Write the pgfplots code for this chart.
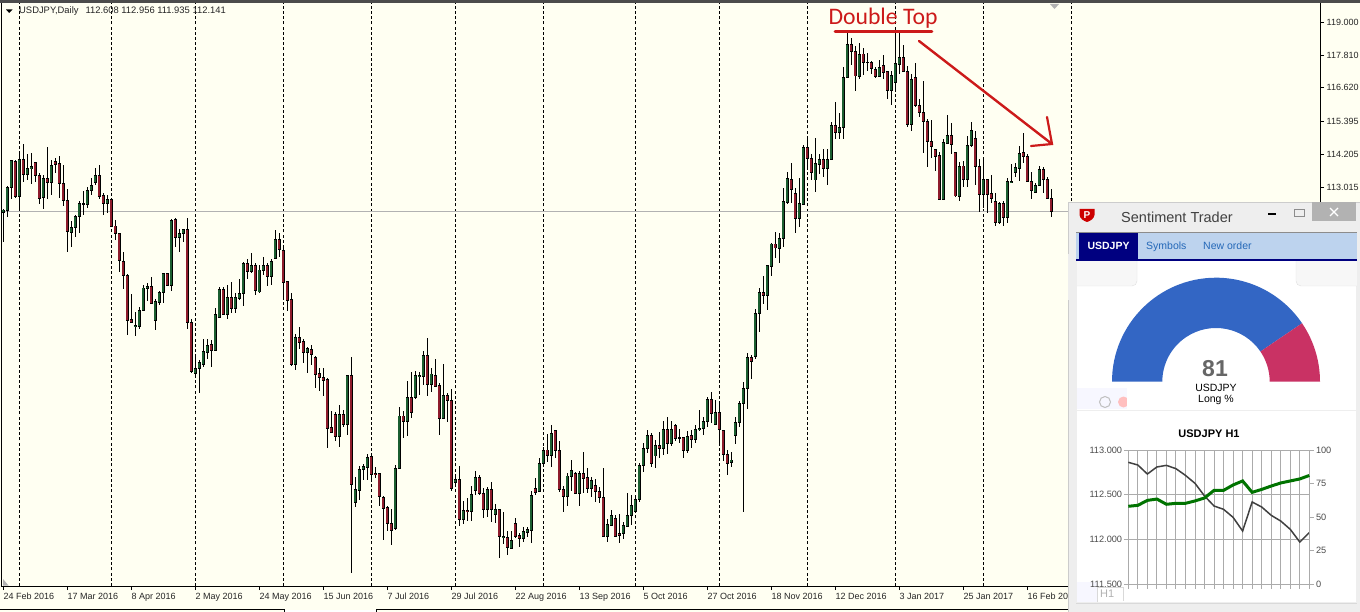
\documentclass[border=0pt]{standalone}
\usepackage{fontspec}
\setmainfont{Liberation Sans}
\newfontfamily\capfont{Carlito}
\usepackage{pgfplots}
\usepackage{pgfplotstable}
\pgfplotsset{compat=1.18}
\definecolor{chartbg}{HTML}{FFFFF2}
\definecolor{upc}{HTML}{1B5E30}
\definecolor{downc}{HTML}{8E1C2C}
\definecolor{panelbg}{HTML}{EEEEEE}
\definecolor{tabblue}{HTML}{BDD3EE}
\definecolor{navytab}{HTML}{000080}
\definecolor{linkblue}{HTML}{2468B8}
\definecolor{gaugeblue}{HTML}{3366C4}
\definecolor{gaugered}{HTML}{C93264}
\definecolor{markup}{HTML}{CC1A1A}
\definecolor{gridgrey}{HTML}{ABABAB}

% daily candles, k = bar number
\pgfplotstableread{
k o h l c
-1 112.13 112.25 111.06 112.20
0 112.18 113.07 111.94 113.02
1 113.02 114.01 112.59 113.99
2 113.96 114.01 112.64 112.68
3 112.68 114.27 112.20 114.03
4 114.03 114.59 113.23 113.48
5 113.48 114.23 113.29 113.71
6 113.70 114.25 113.13 113.77
7 113.91 113.95 113.23 113.46
8 113.46 113.55 112.42 112.61
9 112.66 113.47 112.25 113.35
10 113.35 114.47 112.61 113.19
11 113.21 114.01 112.73 113.82
12 113.95 114.07 113.53 113.84
13 113.87 114.15 112.64 113.17
14 113.17 113.83 112.35 112.54
15 112.54 112.97 110.70 111.43
16 111.38 111.79 110.85 111.58
17 111.58 112.03 111.24 111.98
18 111.96 112.54 111.38 112.42
19 112.39 112.90 112.02 112.42
20 112.39 113.02 112.27 112.92
21 112.90 113.35 112.74 113.07
22 113.19 113.71 113.12 113.46
23 113.46 113.83 112.61 112.68
24 112.71 112.80 112.02 112.44
25 112.44 112.73 112.08 112.59
26 112.59 112.62 111.60 111.62
27 111.62 111.84 111.12 111.36
28 111.36 111.38 109.97 110.37
29 110.35 110.70 109.36 109.84
30 109.84 109.89 107.69 108.22
31 108.25 109.16 108.10 108.13
32 107.98 108.53 107.65 108.03
33 107.98 108.71 107.91 108.56
34 108.56 109.48 108.54 109.38
35 109.36 109.57 108.92 109.45
36 109.45 109.79 108.80 108.83
37 108.22 108.97 107.86 108.88
38 108.85 109.26 108.78 109.21
39 109.21 109.94 108.83 109.89
40 109.89 109.94 109.45 109.48
41 109.48 111.86 109.28 111.82
42 111.86 111.90 110.88 111.21
43 111.21 111.50 110.70 111.36
44 111.36 111.50 111.06 111.48
45 111.48 111.91 107.91 108.13
46 108.13 108.25 106.32 106.36
47 106.30 106.90 106.15 106.48
48 106.47 106.78 105.60 106.68
49 106.61 107.53 106.54 107.07
50 107.04 107.55 106.80 107.31
51 107.32 107.50 106.51 107.12
52 107.12 108.65 107.12 108.41
53 108.32 109.41 108.30 109.31
54 109.31 109.43 108.44 108.44
55 108.44 109.49 108.27 109.04
56 109.04 109.60 108.47 108.66
57 108.63 109.19 108.49 109.04
58 109.02 109.72 108.95 109.19
59 109.19 110.32 108.73 110.25
60 110.25 110.42 109.72 109.97
61 109.97 110.63 109.91 110.21
62 110.21 110.30 109.14 109.28
63 109.24 110.20 109.21 110.03
64 110.01 110.51 109.84 110.21
65 110.21 110.30 109.45 109.79
66 109.79 110.42 109.49 110.35
67 110.44 111.48 110.42 111.14
68 111.14 111.38 110.49 110.76
69 110.73 110.85 108.95 109.57
70 109.60 109.65 108.56 108.92
71 108.95 109.19 106.56 106.61
72 106.61 107.72 106.42 107.60
73 107.60 107.96 107.16 107.40
74 107.43 107.53 106.66 107.04
75 107.04 107.26 106.32 107.19
76 107.16 107.31 106.60 106.97
77 106.87 106.92 105.77 106.27
78 106.30 106.48 105.67 106.13
79 106.15 106.49 105.48 106.05
80 106.08 106.13 103.60 104.32
81 104.34 104.95 104.13 104.17
82 104.79 104.91 103.86 104.01
83 104.01 105.14 103.64 104.81
84 104.81 104.97 104.37 104.46
85 104.46 106.22 104.07 106.22
86 106.22 106.87 99.09 102.27
87 101.62 102.56 101.47 102.08
88 102.05 102.94 101.72 102.82
89 102.82 103.02 102.44 102.94
90 102.90 103.38 102.44 103.26
91 103.28 103.31 102.44 102.63
92 102.68 102.90 102.51 102.63
93 102.66 102.70 101.50 101.84
94 101.81 101.86 100.27 101.40
95 101.43 101.50 100.61 100.87
96 100.87 101.38 100.09 100.61
97 100.70 102.98 100.63 102.86
98 102.85 105.09 102.82 104.75
99 104.75 104.95 103.96 104.54
100 104.54 106.01 104.03 105.43
101 105.43 106.36 104.68 104.87
102 105.43 106.39 105.38 106.22
103 106.18 106.36 105.51 106.22
104 106.18 107.12 105.86 106.95
105 106.95 107.56 105.48 105.89
106 105.89 106.48 105.62 106.27
107 106.22 106.80 105.81 105.84
108 105.86 105.96 104.07 104.68
109 104.68 106.63 104.68 105.48
110 105.48 105.60 104.55 105.31
111 105.31 105.72 102.05 102.15
112 102.34 102.56 102.26 102.46
113 102.46 102.94 100.78 101.02
114 101.02 101.69 100.85 101.35
115 101.35 101.78 100.97 101.31
116 101.31 102.22 100.97 101.90
117 102.05 102.75 101.91 102.54
118 102.54 102.62 101.90 101.96
119 101.96 102.14 101.06 101.38
120 101.38 102.17 101.11 102.08
121 102.08 102.37 100.93 101.38
122 101.21 101.57 100.87 101.38
123 101.38 101.38 99.63 100.39
124 100.37 101.28 100.12 100.41
125 100.37 100.61 99.74 100.00
126 99.98 100.61 99.93 100.25
127 100.87 101.06 100.33 100.41
128 100.44 100.53 100.00 100.32
129 100.32 100.73 100.20 100.56
130 100.53 100.75 100.39 100.63
131 100.61 102.05 100.17 101.88
132 102.14 102.51 101.90 102.00
133 102.02 103.23 102.02 103.04
134 103.04 103.62 102.90 103.52
135 103.52 104.10 103.10 103.31
136 103.31 104.42 102.90 104.10
137 104.22 104.25 103.22 103.50
138 103.50 103.86 102.02 102.08
139 102.10 102.22 101.29 101.84
140 101.84 102.68 101.50 102.58
141 102.56 103.16 102.05 102.78
142 102.66 102.73 101.93 101.96
143 101.96 102.78 101.50 102.66
144 102.66 103.45 101.96 102.49
145 102.51 102.86 101.96 102.13
146 102.13 102.56 101.84 102.41
147 102.25 102.46 101.66 102.03
148 102.03 102.17 101.62 101.81
149 101.81 102.87 100.39 100.39
150 100.39 101.04 100.20 100.84
151 100.80 101.35 100.78 101.14
152 101.06 101.16 100.39 100.41
153 100.51 101.21 100.17 100.44
154 100.49 100.92 100.32 100.80
155 100.75 101.96 100.75 101.14
156 101.14 101.90 100.81 101.50
157 101.29 101.90 101.23 101.74
158 101.72 103.04 101.64 102.97
159 102.95 103.77 102.74 103.58
160 103.57 104.25 103.43 104.03
161 104.03 104.15 102.92 103.02
162 103.31 103.89 102.87 103.69
163 103.69 104.17 103.23 103.57
164 103.57 104.56 103.36 104.27
165 104.27 104.71 103.38 103.77
166 103.77 104.56 103.67 104.27
167 104.42 104.46 103.86 103.93
168 103.93 104.27 103.77 103.96
169 103.96 104.01 103.23 103.50
170 103.50 104.20 103.43 104.01
171 104.03 104.25 103.60 103.89
172 103.89 104.42 103.79 104.27
173 104.25 104.97 104.20 104.30
174 104.30 104.71 104.08 104.56
175 104.56 105.43 104.37 105.36
176 105.36 105.62 104.51 104.85
177 104.44 105.33 104.42 104.87
178 104.87 105.19 103.77 104.25
179 104.22 104.25 103.11 103.36
180 103.36 103.52 102.63 103.04
181 103.07 103.45 102.92 103.16
182 104.05 104.71 103.74 104.51
183 104.51 105.28 104.37 105.21
184 105.21 105.98 101.29 105.75
185 105.75 107.02 105.02 106.87
186 106.87 106.97 106.10 106.73
187 106.90 108.61 106.80 108.47
188 108.47 109.37 107.79 109.23
189 109.23 109.82 108.80 109.12
190 109.12 110.20 108.59 110.18
191 110.15 111.00 109.82 110.97
192 110.97 111.41 110.47 110.83
193 110.82 111.38 110.30 111.18
194 111.18 112.99 110.88 112.52
195 112.47 113.58 112.42 113.34
196 113.31 113.91 112.44 112.93
197 112.80 112.99 111.38 111.91
198 111.91 113.35 111.60 112.42
199 112.42 114.54 112.38 114.47
200 114.47 114.88 113.65 114.06
201 114.06 114.23 113.29 113.55
202 113.29 114.79 112.87 113.87
203 113.84 114.23 113.50 114.03
204 114.03 114.40 113.41 113.72
205 113.72 114.40 113.11 114.03
206 114.03 115.40 114.01 115.26
207 115.26 116.12 114.76 115.00
208 115.00 115.70 114.76 115.19
209 115.19 117.38 114.76 117.00
210 116.98 118.61 116.98 118.17
211 118.17 118.41 117.45 117.93
212 117.93 118.13 116.52 117.05
213 117.05 118.25 116.95 117.84
214 117.84 118.05 117.10 117.53
215 117.53 117.89 117.24 117.55
216 117.55 117.59 117.12 117.31
217 117.29 117.38 116.98 117.02
218 117.02 117.63 117.00 117.36
219 117.41 117.79 116.93 117.19
220 117.22 117.24 116.23 116.52
221 116.52 117.22 116.01 117.05
222 116.81 118.59 116.57 117.48
223 117.48 118.59 117.12 117.72
224 117.72 118.17 117.19 117.22
225 117.22 117.41 115.22 115.31
226 115.31 117.12 115.07 116.93
227 117.00 117.51 115.94 115.99
228 115.99 116.23 115.58 115.72
229 115.72 116.85 114.25 115.40
230 115.41 115.50 113.77 114.69
231 114.69 115.46 114.07 114.49
232 114.37 114.42 113.62 114.15
233 114.18 114.30 112.56 112.59
234 112.59 114.76 112.56 114.64
235 114.61 115.64 114.59 114.88
236 114.88 115.36 114.23 114.56
237 114.28 114.30 112.68 112.71
238 112.71 113.95 112.54 113.79
239 113.79 113.99 113.05 113.31
240 113.31 114.88 113.02 114.54
241 114.54 115.38 114.49 115.07
242 114.78 115.07 113.09 113.77
243 113.79 114.03 112.13 112.78
244 112.78 114.03 112.26 113.29
245 113.29 113.34 112.08 112.78
246 112.80 113.48 112.47 112.61
247 112.49 112.80 111.62 111.74
248 111.74 112.49 111.70 112.42
249 112.42 112.52 111.62 111.94
250 111.94 113.36 111.74 113.24
251 113.20 113.87 113.20 113.24
252 113.55 113.89 113.41 113.74
253 113.72 114.52 113.26 114.25
254 114.28 114.97 113.89 114.13
255 114.15 114.23 113.21 113.24
256 113.24 113.59 112.61 112.90
257 112.85 113.19 112.80 113.09
258 113.09 113.79 113.07 113.67
259 113.67 113.74 112.83 113.31
260 113.31 113.41 112.59 112.61
261 112.61 112.96 111.94 112.14
}\candles

% sentiment panel series
\pgfplotstableread{
i price
0 112.862
1 112.832
2 112.731
3 112.810
4 112.828
5 112.791
6 112.716
7 112.627
8 112.485
9 112.373
10 112.336
11 112.246
12 112.093
13 112.418
14 112.362
15 112.269
16 112.205
17 112.112
18 111.970
19 112.075
}\hprice
\pgfplotstableread{
i long
0 58.0
1 58.7
2 62.4
3 63.4
4 59.5
5 60.2
6 60.2
7 62.0
8 64.2
9 69.9
10 69.9
11 73.9
12 76.9
13 68.4
14 70.6
15 73.1
16 75.4
17 76.9
18 78.4
19 81.0
}\hlong

\pgfplotsset{
  candle bars/.style n args={2}{only marks, mark size=0pt, mark options={draw=none, fill=none}, forget plot,
    error bars/.cd, y dir=both, y explicit, error mark=none,
    error bar style={draw=#1, solid, line width=#2}},
}

\begin{document}
\begin{tikzpicture}[x=1pt, y=-1pt]
\path[use as bounding box] (0,0) rectangle (1360,612);
\fill[chartbg] (0,0) rectangle (1360,612);

\begin{axis}[
  at={(2pt,-586pt)}, anchor=south west,
  scale only axis, width=1318pt, height=583pt,
  xmin=-1.3325, xmax=328.17,
  ymin=98.605, ymax=119.687,
  axis background/.style={fill=chartbg},
  axis line style={black, line width=1pt},
  ytick pos=right, xtick pos=bottom,
  tick style={black, line width=0.8pt},
  tick align=outside, major tick length=4pt,
  xtick={-1,15,31,47,63,79,95,111,127,143,159,175,191,207,223,239,255},
  xticklabels={24 Feb 2016,17 Mar 2016,8 Apr 2016,2 May 2016,24 May 2016,15 Jun 2016,7 Jul 2016,29 Jul 2016,22 Aug 2016,13 Sep 2016,5 Oct 2016,27 Oct 2016,18 Nov 2016,12 Dec 2016,3 Jan 2017,25 Jan 2017,16 Feb 2017},
  xticklabel style={anchor=north west, inner xsep=0pt, inner ysep=3pt, font=\fontsize{9}{10}\selectfont, text=black!85},
  ytick={119,117.81,116.62,115.395,114.205,113.015},
  yticklabels={119.000,117.810,116.620,115.395,114.205,113.015},
  yticklabel style={font=\fontsize{9}{10}\selectfont, text=black!85, inner xsep=2.5pt},
  extra x ticks={3,26,47,69,91,112,134,157,178,200,222,244,266},
  extra x tick labels={},
  extra x tick style={grid=major, major tick length=0pt,
    major grid style={black, line width=0.9pt, dash pattern=on 3pt off 2.2pt}},
]
\addplot[gray!60, line width=0.9pt, forget plot] coordinates {(-1.3325,112.141) (328,112.141)};
% wicks
\addplot[candle bars={black}{1pt}]
  table[x=k, y expr={(\thisrow{h}+\thisrow{l})/2}, y error expr={(\thisrow{h}-\thisrow{l})/2}] {\candles};
% body outlines
\addplot[candle bars={black}{3.6pt}]
  table[x=k, y expr={(\thisrow{o}+\thisrow{c})/2}, y error expr={abs(\thisrow{o}-\thisrow{c})/2+0.02}] {\candles};
% body fills: the other colour is sent off the left edge and dropped
\addplot[restrict x to domain=-5:400, candle bars={upc}{2pt}]
  table[x expr={\thisrow{c}>=\thisrow{o} ? \thisrow{k} : -50}, y expr={(\thisrow{o}+\thisrow{c})/2}, y error expr={max(abs(\thisrow{o}-\thisrow{c})/2-0.015,0)}] {\candles};
\addplot[restrict x to domain=-5:400, candle bars={downc}{2pt}]
  table[x expr={\thisrow{c}<\thisrow{o} ? \thisrow{k} : -50}, y expr={(\thisrow{o}+\thisrow{c})/2}, y error expr={max(abs(\thisrow{o}-\thisrow{c})/2-0.015,0)}] {\candles};
\end{axis}

% window chrome of the chart
\fill[black!70] (0,0) rectangle (1360,2.6);
\fill[black] (6,9.5) -- (12.5,9.5) -- (9.2,13) -- cycle;
\node[anchor=west, inner sep=0pt, font=\fontsize{9.4}{10}\selectfont, text=black!85] at (19,11.5) {USDJPY,Daily\hspace{7pt}112.608 112.956 111.935 112.141};
\fill[black!30] (1050,4) -- (1059,4) -- (1054.5,9) -- cycle;
\fill[black!30] (3,579) -- (8.5,585.5) -- (3,585.5) -- cycle;
\draw[black, line width=1pt] (0,609) -- (284,609) -- (284,612);
\draw[black, line width=1pt] (376,612) -- (376,609) -- (1070,609);
\fill[white] (284.5,609.5) rectangle (375.5,612);

% markup
\node[anchor=center, inner sep=0pt, text=markup, font=\capfont\fontsize{23.7}{24}\selectfont] at (883,18) {Double Top};
\draw[markup, line width=2.6pt, line cap=round] (835,31.5) -- (932,31.5);
\draw[markup, line width=2.4pt, line cap=round] (919,41) -- (1052,144);
\draw[markup, line width=2.2pt, line cap=round] (1031,146) -- (1052,144) -- (1047,117);

% sentiment panel
\fill[panelbg] (1068,202) rectangle (1360,612);
\draw[black!20] (1068,612) -- (1068,202) -- (1360,202);
\fill[black!30] (1312,202) rectangle (1356,221);
\draw[white, line width=1.3pt] (1330,208) -- (1338,216) (1338,208) -- (1330,216);
\fill[black] (1268,213) rectangle (1276,215);
\draw[black!45] (1294,209) rectangle (1304,216.5);
\fill[red!80!black] (1079.5,209) -- (1094.5,209) -- (1094.5,215) .. controls (1094,219) and (1090,221) .. (1087,222) .. controls (1084,221) and (1080,219) .. (1079.5,215) -- cycle;
\node[white, inner sep=0pt, font=\bfseries\fontsize{10}{10}\selectfont] at (1087,215) {P};
\node[anchor=west, inner sep=0pt, text=black!75, font=\fontsize{14.5}{16}\selectfont] at (1121,217) {Sentiment Trader};

\fill[white] (1077,261) rectangle (1356,602);
\draw[black!12, fill=black!3, rounded corners=5pt] (1070,255) rectangle (1137,286);
\draw[black!12, fill=black!3, rounded corners=5pt] (1296,255) rectangle (1362,286);
\fill[panelbg] (1068,254) rectangle (1076.5,300);
\fill[panelbg] (1356.5,254) rectangle (1360,300);
\fill[tabblue] (1076,232) rectangle (1357,260);
\draw[black!45] (1076,232) -- (1357,232);
\fill[navytab] (1079,233) rectangle (1138,259);
\fill[navytab] (1076,259) rectangle (1357,261);
\node[white, inner sep=0pt, font=\bfseries\fontsize{10.5}{12}\selectfont] at (1108.5,246) {USDJPY};
\node[anchor=base west, text=linkblue, inner sep=0pt, font=\fontsize{10.5}{12}\selectfont] at (1146,250) {Symbols};
\node[anchor=base west, text=linkblue, inner sep=0pt, font=\fontsize{10.5}{12}\selectfont] at (1203,250) {New order};

% gauge, 81 percent long
\fill[gaugeblue] (1112,381.7) arc[start angle=180, end angle=34.2, radius=104pt] -- ++(214.2:50.3pt) arc[start angle=34.2, end angle=180, radius=53.7pt] -- cycle;
\fill[gaugered] (1320,381.7) arc[start angle=0, end angle=34.2, radius=104pt] -- ++(214.2:50.3pt) arc[start angle=34.2, end angle=0, radius=53.7pt] -- cycle;
\node[text=black!60, inner sep=0pt, font=\bfseries\fontsize{23}{24}\selectfont] at (1215,369) {81};
\node[inner sep=0pt, font=\fontsize{10.5}{12}\selectfont] at (1216,388) {USDJPY};
\node[inner sep=0pt, font=\fontsize{10.5}{12}\selectfont] at (1216,400) {Long \%};
\fill[blue!3] (1077,388) rectangle (1127,409);
\draw[black!25, line width=1pt] (1105,402) circle (5.5pt);
\fill[red!25] (1123.5,402) circle (5.5pt);
\fill[white] (1127,388) rectangle (1132,409);
\fill[panelbg] (1076,410) rectangle (1357,411);

\node[inner sep=0pt, font=\bfseries\fontsize{11}{12}\selectfont] at (1209,433.5) {USDJPY H1};

\fill[blue!3] (1077,582) rectangle (1097,602);
\fill[white] (1097,587) rectangle (1123,602);
\draw[black!15] (1097,602) -- (1097,587) -- (1123,587) -- (1123,601);
\node[anchor=west, inner sep=0pt, text=black!30, font=\fontsize{11}{12}\selectfont] at (1100,594) {H1};
\draw[black!15] (1076,603) -- (1357,603);

% sentiment chart: price on the left, long percent on the right
\begin{axis}[
  at={(1128.3pt,-584pt)}, anchor=south west,
  scale only axis, width=181pt, height=134pt,
  xmin=0, xmax=19, ymin=111.5, ymax=113,
  axis line style={gridgrey, line width=0.9pt},
  xtick={0,...,19}, xticklabels={}, ytick={111.5,112,112.5,113},
  yticklabels={111.500,112.000,112.500,113.000},
  yticklabel style={font=\fontsize{9.2}{10}\selectfont, text=black!70, inner xsep=1.5pt},
  xmajorgrids, ymajorgrids,
  grid style={gridgrey, line width=0.9pt},
  tick style={gridgrey, line width=0.9pt},
  tick align=outside, major tick length=4.5pt,
  xtick pos=bottom, ytick pos=left,
  clip=false,
]
\addplot[black!75, line width=1.5pt] table[x=i, y=price] {\hprice};
\end{axis}
\begin{axis}[
  at={(1128.3pt,-584pt)}, anchor=south west,
  scale only axis, width=181pt, height=134pt,
  xmin=0, xmax=19, ymin=0, ymax=100,
  axis x line=none, axis y line*=right,
  axis line style={gridgrey, line width=0.9pt},
  ytick={0,25,50,75,100},
  yticklabels={0,25,50,75,100},
  yticklabel style={font=\fontsize{9.2}{10}\selectfont, text=black!70, inner xsep=2pt},
  tick style={gridgrey, line width=0.9pt},
  tick align=outside, major tick length=4.5pt,
  clip=false,
]
\addplot[green!45!black, line width=3pt] table[x=i, y=long] {\hlong};
\end{axis}
\end{tikzpicture}
\end{document}
